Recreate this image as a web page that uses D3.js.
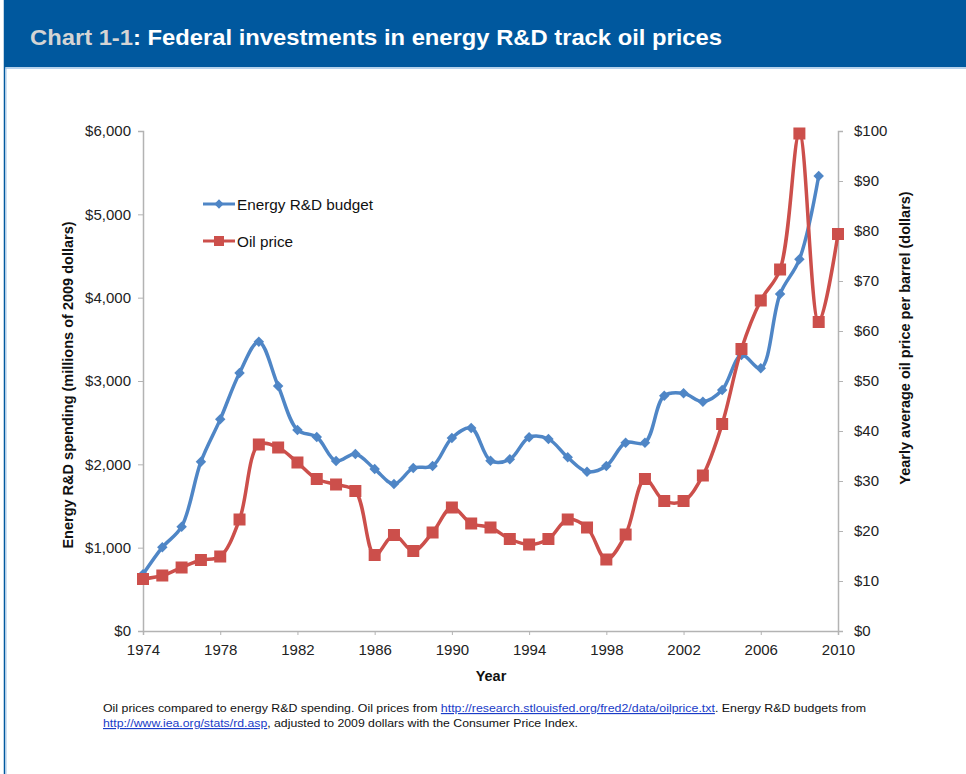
<!DOCTYPE html>
<html lang="en">
<head>
<meta charset="utf-8">
<title>Chart 1-1</title>
<script src="https://cdn.jsdelivr.net/npm/d3@7"></script>
<style>
  body { margin: 0; background: #fff; font-family: "Liberation Sans", Arial, sans-serif; }
  .tick text { font-size: 15px; fill: #222; font-family: "Liberation Sans", Arial, sans-serif; }
  .axis path, .axis line { stroke: #b3b3b3; }
</style>
</head>
<body>
<script>
var years = d3.range(1974, 2011);
// Energy R&D budget, millions of 2009 dollars (1974-2009)
var budget = [680, 1004, 1252, 2032, 2540, 3096, 3472, 2940, 2412, 2328, 2040, 2124, 1944, 1764,
  1956, 1980, 2316, 2436, 2044, 2060, 2324, 2304, 2084, 1912, 1980, 2260, 2260, 2824, 2852,
  2752, 2892, 3312, 3152, 4044, 4460, 5460];
// Yearly average oil price per barrel, dollars (1974-2010)
var oil = [10.4, 11.1, 12.7, 14.2, 14.9, 22.3, 37.3, 36.7, 33.7, 30.4, 29.3, 28.0, 15.2, 19.2,
  16.0, 19.7, 24.7, 21.5, 20.7, 18.4, 17.3, 18.4, 22.3, 20.7, 14.3, 19.3, 30.4, 26.0, 26.0,
  31.1, 41.4, 56.4, 66.1, 72.3, 99.5, 61.8, 79.4];
var xTicks = d3.range(1974, 2011, 4);
var leftTicks = [0, 1000, 2000, 3000, 4000, 5000, 6000];
var rightTicks = [0, 10, 20, 30, 40, 50, 60, 70, 80, 90, 100];

var w = 966, h = 774;
var margin = {left: 143, right: 128, top: 131, bottom: 143};
var svg = d3.select('body').append('svg').attr('width', w).attr('height', h);

// header bar and frame
svg.append('rect').attr('x', 4).attr('y', 0).attr('width', w - 4).attr('height', 67).attr('fill', '#00589e');
svg.append('line').attr('x1', 4).attr('x2', w).attr('y1', 68).attr('y2', 68).attr('stroke', '#9fc3e6').attr('stroke-width', 1.5);
svg.append('line').attr('x1', 4.5).attr('x2', 4.5).attr('y1', 0).attr('y2', h).attr('stroke', '#00589e').attr('stroke-width', 1.5);
svg.append('line').attr('x1', 6).attr('x2', 6).attr('y1', 68).attr('y2', h).attr('stroke', '#9fc3e6').attr('stroke-width', 1);

var title = svg.append('text').attr('x', 30).attr('y', 45)
  .attr('font-size', 22.5).attr('font-weight', 'bold')
  .attr('textLength', 692).attr('lengthAdjust', 'spacingAndGlyphs');
title.append('tspan').attr('fill', '#d4d4d4').text('Chart 1-1');
title.append('tspan').attr('fill', '#fff').text(': Federal investments in energy R&D track oil prices');

var x = d3.scaleLinear().domain([1974, 2010]).range([margin.left, w - margin.right]);
var yL = d3.scaleLinear().domain([0, 6000]).range([h - margin.bottom, margin.top]);
var yR = d3.scaleLinear().domain([0, 100]).range([h - margin.bottom, margin.top]);

var fmtL = function(d) { return '$' + d3.format(',')(d); };

svg.append('g').attr('class', 'axis')
  .attr('transform', 'translate(0,' + (h - margin.bottom) + ')')
  .call(d3.axisBottom(x).tickValues(xTicks).tickFormat(d3.format('d')).tickSize(4).tickPadding(9));

svg.append('g').attr('class', 'axis')
  .attr('transform', 'translate(' + margin.left + ',0)')
  .call(d3.axisLeft(yL).tickValues(leftTicks).tickFormat(fmtL).tickSize(5).tickPadding(7));

svg.append('g').attr('class', 'axis')
  .attr('transform', 'translate(' + (w - margin.right) + ',0)')
  .call(d3.axisRight(yR).tickValues(rightTicks).tickFormat(function(d) { return '$' + d; }).tickSize(5).tickPadding(11));

svg.selectAll('.axis .domain').attr('stroke', '#b3b3b3').attr('stroke-width', 1.5);

// axis titles
svg.append('text').attr('transform', 'translate(73,385) rotate(-90)')
  .attr('text-anchor', 'middle').attr('font-size', 14.5).attr('font-weight', 'bold').attr('fill', '#111')
  .text('Energy R&D spending (millions of 2009 dollars)');
svg.append('text').attr('transform', 'translate(910,338) rotate(-90)')
  .attr('text-anchor', 'middle').attr('font-size', 14.5).attr('font-weight', 'bold').attr('fill', '#111')
  .text('Yearly average oil price per barrel (dollars)');
svg.append('text').attr('x', 491).attr('y', 681).attr('text-anchor', 'middle')
  .attr('font-size', 14.5).attr('font-weight', 'bold').attr('fill', '#111').text('Year');

var blue = '#4f86c6', red = '#cc4f4b';

var budgetData = budget.map(function(v, i) { return {year: years[i], v: v}; });
var oilData = oil.map(function(v, i) { return {year: years[i], v: v}; });

var lineL = d3.line().x(function(d) { return x(d.year); }).y(function(d) { return yL(d.v); }).curve(d3.curveCatmullRom.alpha(0.5));
var lineR = d3.line().x(function(d) { return x(d.year); }).y(function(d) { return yR(d.v); }).curve(d3.curveCatmullRom.alpha(0.5));

svg.append('path').datum(budgetData).attr('d', lineL)
  .attr('fill', 'none').attr('stroke', blue).attr('stroke-width', 3.5);
svg.selectAll('.dia').data(budgetData).enter().append('path')
  .attr('class', 'dia')
  .attr('transform', function(d) { return 'translate(' + x(d.year) + ',' + yL(d.v) + ')'; })
  .attr('d', d3.symbol().type(d3.symbolDiamond2).size(70))
  .attr('fill', blue);

svg.append('path').datum(oilData).attr('d', lineR)
  .attr('fill', 'none').attr('stroke', red).attr('stroke-width', 3.5);
svg.selectAll('.sq').data(oilData).enter().append('rect')
  .attr('class', 'sq')
  .attr('x', function(d) { return x(d.year) - 6; })
  .attr('y', function(d) { return yR(d.v) - 6; })
  .attr('width', 12).attr('height', 12)
  .attr('fill', red);

// legend
var legend = [{name: 'Energy R&D budget', color: blue, mark: 'diamond'}, {name: 'Oil price', color: red, mark: 'square'}];
var lg = svg.selectAll('.lg').data(legend).enter().append('g')
  .attr('transform', function(d, i) { return 'translate(203,' + (204 + i * 37) + ')'; });
lg.append('line').attr('x1', 0).attr('x2', 32).attr('stroke', function(d) { return d.color; }).attr('stroke-width', 3);
lg.each(function(d) {
  var g = d3.select(this);
  if (d.mark === 'diamond') {
    g.append('path').attr('transform', 'translate(16,0)').attr('d', d3.symbol().type(d3.symbolDiamond2).size(55)).attr('fill', d.color);
  } else {
    g.append('rect').attr('x', 11).attr('y', -5).attr('width', 10).attr('height', 10).attr('fill', d.color);
  }
});
lg.append('text').attr('x', 34).attr('y', 5.5).attr('font-size', 15.3).attr('fill', '#111').text(function(d) { return d.name; });

// footnote
var fn = svg.append('g').attr('font-size', 11.5).attr('fill', '#111');
var l1 = fn.append('text').attr('x', 103).attr('y', 712)
  .attr('textLength', 763).attr('lengthAdjust', 'spacingAndGlyphs');
l1.append('tspan').text('Oil prices compared to energy R&D spending. Oil prices from ');
l1.append('tspan').attr('fill', '#1a3cc8').attr('text-decoration', 'underline').text('http://research.stlouisfed.org/fred2/data/oilprice.txt');
l1.append('tspan').text('. Energy R&D budgets from');
var l2 = fn.append('text').attr('x', 103).attr('y', 727)
  .attr('textLength', 475).attr('lengthAdjust', 'spacingAndGlyphs');
l2.append('tspan').attr('fill', '#1a3cc8').attr('text-decoration', 'underline').text('http://www.iea.org/stats/rd.asp');
l2.append('tspan').text(', adjusted to 2009 dollars with the Consumer Price Index.');
</script>
</body>
</html>
